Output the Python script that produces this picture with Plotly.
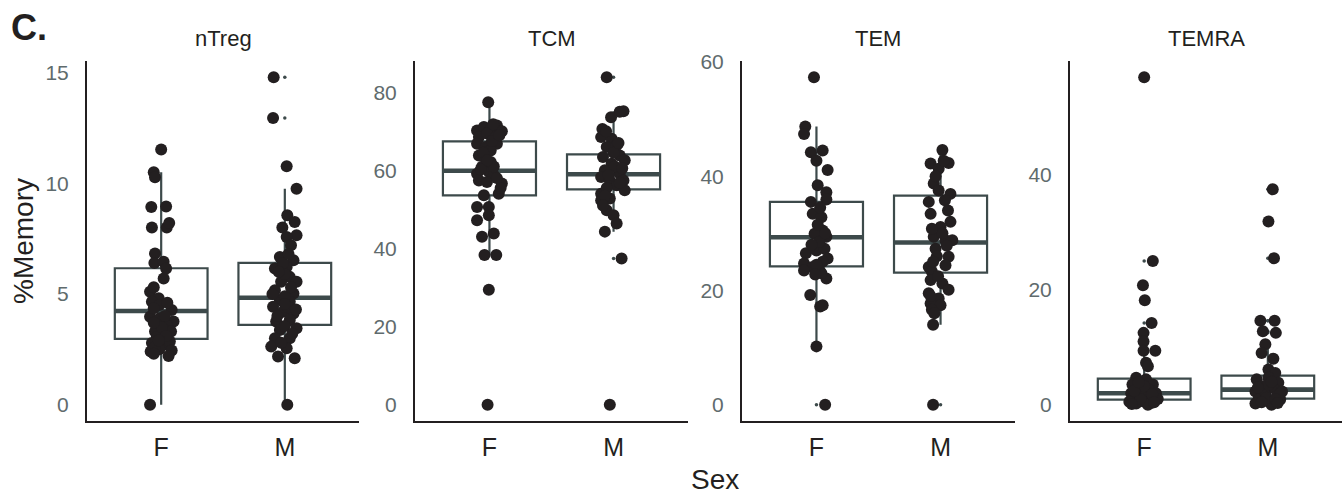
import plotly.graph_objects as go

# ---------------- data ----------------
panels = ["nTreg", "TCM", "TEM", "TEMRA"]
sexes = ["F", "M"]

ntreg_F = [11.52, 10.5, 10.27, 8.93, 8.95, 8.0, 8.0, 8.2, 6.83, 6.4, 6.45, 6.15, 5.7, 5.1, 4.8,
           4.65, 4.5, 4.27, 3.97, 3.9, 3.75, 3.6, 3.3, 3.3, 3.05, 2.78, 2.7, 2.85, 2.4, 2.5,
           2.45, 2.2, 0.0, 4.0, 3.5, 2.6, 5.3, 4.35, 3.1, 2.9, 4.6, 3.7, 2.3]
ntreg_F_jit = [0.0, -0.06, -0.05, -0.08, 0.04, -0.075, 0.045, 0.065, -0.05, -0.055, 0.02, 0.04,
               0.02, -0.09, -0.02, -0.075, -0.015, 0.085, -0.09, -0.01, 0.1, 0.045, -0.05, 0.08,
               -0.035, -0.075, 0.02, 0.07, -0.085, -0.015, 0.085, 0.06, -0.09, 0.03, 0.005, -0.05,
               -0.06, -0.06, 0.04, -0.02, 0.05, -0.06, -0.06]
ntreg_M = [14.78, 12.95, 10.77, 9.75, 8.55, 8.25, 8.0, 7.65, 7.57, 7.2, 6.67, 6.52, 6.15, 6.22,
           5.77, 5.55, 5.55, 5.17, 5.02, 4.72, 4.65, 4.42, 4.12, 4.2, 3.75, 3.82, 3.45, 3.37, 3.0,
           3.0, 2.62, 2.55, 2.17, 2.1, 0.0, 5.9, 4.9, 3.55, 6.4, 4.4, 6.0, 5.3, 4.55, 4.0, 3.2,
           2.8, 6.8, 5.0, 4.3]
ntreg_M_jit = [-0.09, -0.095, 0.015, 0.095, 0.02, 0.08, -0.02, 0.095, 0.015, 0.05, -0.04, 0.07,
               -0.08, 0.015, 0.04, 0.095, -0.03, -0.08, 0.07, -0.04, 0.04, -0.095, 0.07, -0.015,
               -0.07, 0.04, 0.095, -0.04, -0.08, 0.04, -0.11, 0.015, -0.055, 0.08, 0.02, 0.0, 0.0,
               0.0, -0.015, 0.025, -0.05, 0.05, 0.0, -0.06, 0.06, -0.03, 0.03, -0.1, 0.09]

tcm_F = [77.4, 70.2, 71.1, 70.6, 71.5, 70.0, 68.5, 69.4, 68.5, 66.8, 66.8, 66.0, 63.8, 65.1, 62.1,
         60.9, 59.6, 59.1, 58.7, 57.4, 57.0, 56.6, 54.0, 53.6, 50.6, 50.6, 48.5, 47.2, 43.0, 43.8,
         38.3, 38.3, 29.4, 0.0, 67.5, 61.0, 55.5, 69.0, 64.5, 62.5, 58.0, 60.2, 71.8]
tcm_F_jit = [-0.01, -0.1, -0.045, 0.01, 0.06, 0.1, -0.085, -0.02, 0.05, -0.1, 0.06, -0.03, -0.085,
             0.01, 0.01, -0.06, -0.005, -0.1, 0.035, -0.085, -0.02, 0.1, 0.075, -0.045, -0.1,
             -0.005, -0.005, -0.1, -0.06, 0.035, -0.04, 0.055, -0.005, -0.015, 0.02, 0.035, 0.09,
             0.08, -0.05, -0.02, 0.06, -0.07, 0.03]
tcm_M = [83.8, 75.1, 75.0, 73.6, 70.6, 68.5, 68.1, 66.0, 66.4, 63.4, 63.8, 62.6, 61.7, 60.0, 59.1,
         58.3, 57.4, 57.4, 56.2, 54.9, 54.0, 52.8, 52.3, 49.8, 48.5, 46.4, 44.3, 37.4, 0.0, 64.5,
         61.0, 55.5, 70.0, 67.0, 60.5, 58.8, 53.5, 56.8, 51.0]
tcm_M_jit = [-0.055, 0.08, 0.05, -0.02, -0.09, -0.1, -0.015, -0.055, 0.025, -0.085, 0.05, 0.09,
             -0.015, -0.07, 0.05, -0.1, -0.03, 0.08, 0.025, 0.09, -0.1, -0.03, -0.1, -0.055, 0.0,
             0.025, -0.07, 0.065, -0.03, 0.0, 0.01, -0.055, -0.06, 0.04, 0.07, -0.04, -0.07,
             0.05, -0.085]

tem_F = [57.3, 48.7, 47.4, 44.2, 44.5, 42.7, 41.1, 38.4, 37.2, 35.9, 35.5, 33.4, 32.8, 30.5, 29.9,
         29.4, 26.5, 27.0, 27.3, 25.6, 24.7, 24.1, 23.5, 23.5, 22.1, 23.0, 19.2, 17.2, 17.4, 10.2,
         0.0, 31.5, 28.5, 34.5, 30.0, 25.0, 24.5, 22.8, 28.0]
tem_F_jit = [-0.02, -0.09, -0.1, -0.045, 0.05, 0.0, 0.09, 0.01, 0.08, 0.08, -0.045, -0.03, 0.04,
             0.05, -0.015, 0.08, -0.085, 0.0, 0.065, 0.09, -0.1, -0.03, -0.1, 0.025, 0.08, 0.04,
             -0.05, 0.03, 0.05, 0.0, 0.07, 0.01, 0.025, 0.03, 0.07, 0.05, 0.0, -0.01, -0.04]
tem_M = [44.6, 42.2, 42.3, 41.3, 42.7, 38.7, 36.9, 35.8, 35.5, 33.4, 32.0, 31.1, 29.4, 28.8, 28.8,
         27.3, 25.9, 24.4, 24.1, 23.3, 21.8, 21.2, 20.1, 19.5, 18.6, 17.7, 17.4, 16.6, 14.0, 0.0,
         37.5, 30.0, 26.0, 40.0, 34.0, 30.8, 27.8, 25.0, 22.5, 19.0, 16.0]
tem_M_jit = [0.015, -0.08, 0.065, -0.015, 0.025, -0.055, 0.08, 0.035, -0.095, -0.08, 0.08, 0.0,
             -0.055, 0.04, 0.095, -0.04, 0.065, 0.04, -0.095, -0.07, -0.08, 0.015, 0.065, -0.095,
             -0.015, -0.08, 0.0, -0.07, -0.06, -0.06, -0.015, 0.015, -0.03, -0.04, 0.06, -0.07,
             0.05, -0.06, -0.02, -0.08, -0.05]

temra_F = [57.0, 25.0, 20.8, 18.2, 14.2, 12.5, 11.0, 9.4, 9.4, 7.3, 6.7, 4.7, 4.4, 3.5, 3.5, 2.9,
           2.6, 2.0, 2.0, 1.5, 1.5, 1.2, 0.9, 0.6, 0.3, 0.2, 0.0, 2.0, 3.2, 1.0, 0.5, 1.8, 1.0,
           2.4, 3.9, 0.4, 0.1]
temra_F_jit = [0.0, 0.07, -0.01, 0.005, 0.06, -0.005, -0.005, 0.09, -0.005, 0.015, 0.03, -0.065,
               0.015, -0.095, 0.07, -0.04, 0.04, -0.105, 0.095, -0.05, 0.015, 0.07, -0.095, -0.01,
               0.055, -0.065, 0.03, -0.025, 0.0, 0.11, -0.12, 0.065, -0.03, -0.08, -0.045, 0.08,
               -0.1]
temra_M = [37.5, 31.9, 25.5, 14.6, 14.6, 12.8, 12.5, 10.5, 9.0, 8.0, 6.1, 5.5, 4.4, 4.7, 3.8, 3.2,
           2.9, 2.3, 2.3, 1.7, 1.5, 0.9, 0.6, 0.9, 0.2, 0.0, 2.6, 3.5, 1.2, 1.9, 0.4, 1.0, 3.0,
           4.0, 0.3]
temra_M_jit = [0.04, 0.005, 0.05, -0.06, 0.055, -0.04, 0.065, -0.02, -0.05, 0.045, 0.005, 0.06,
               -0.09, 0.005, 0.085, -0.05, 0.045, -0.1, 0.115, -0.02, 0.075, -0.075, 0.02, 0.1,
               -0.1, 0.03, -0.035, 0.005, -0.01, 0.1, -0.05, 0.06, -0.08, 0.03, 0.08]

# box statistics: [F, M]
box_q1 = {"nTreg": [2.97, 3.6], "TCM": [53.6, 55.1], "TEM": [24.2, 23.1], "TEMRA": [0.87, 1.05]}
box_median = {"nTreg": [4.23, 4.83], "TCM": [59.9, 59.0], "TEM": [29.3, 28.4], "TEMRA": [1.98, 2.62]}
box_q3 = {"nTreg": [6.16, 6.4], "TCM": [67.4, 64.1], "TEM": [35.5, 36.6], "TEMRA": [4.54, 5.06]}
box_low = {"nTreg": [0.0, 0.0], "TCM": [38.3, 44.3], "TEM": [10.2, 14.0], "TEMRA": [0.0, 0.0]}
box_high = {"nTreg": [10.5, 9.75], "TCM": [77.4, 75.1], "TEM": [48.7, 44.6], "TEMRA": [9.4, 10.5]}

y_ticks = {"nTreg": [0, 5, 10, 15], "TCM": [0, 20, 40, 60, 80], "TEM": [0, 20, 40, 60],
           "TEMRA": [0, 20, 40]}

values = {
    "nTreg": [(ntreg_F, ntreg_F_jit), (ntreg_M, ntreg_M_jit)],
    "TCM": [(tcm_F, tcm_F_jit), (tcm_M, tcm_M_jit)],
    "TEM": [(tem_F, tem_F_jit), (tem_M, tem_M_jit)],
    "TEMRA": [(temra_F, temra_F_jit), (temra_M, temra_M_jit)],
}

# ---------------- styling ----------------
W, H = 1342, 498
x_px = [(87, 359), (415, 688), (742, 1015), (1070, 1342)]
y_dom = [(498 - 421) / H, (498 - 61) / H]
INK = "#231f20"
BOXC = "#3d4a4b"
TICKC = "#5f6b6d"
FONT = "Liberation Sans, Arial, Helvetica, sans-serif"
BOXW = 0.75

fig = go.Figure()
layout_axes = {}
annotations = []

for p, name in enumerate(panels):
    xa = "x" if p == 0 else f"x{p+1}"
    ya = "y" if p == 0 else f"y{p+1}"
    all_vals = values[name][0][0] + values[name][1][0]
    lo, hi = min(all_vals), max(all_vals)
    span = hi - lo
    yr = [lo - 0.05 * span, hi + 0.05 * span]

    for g, sex in enumerate(sexes):
        vals, jit = values[name][g]
        fig.add_trace(go.Box(
            x=[g], q1=[box_q1[name][g]], median=[box_median[name][g]], q3=[box_q3[name][g]],
            lowerfence=[box_low[name][g]], upperfence=[box_high[name][g]],
            width=BOXW, whiskerwidth=0, boxpoints=False,
            line=dict(color=BOXC, width=2.2), fillcolor="white",
            xaxis=xa, yaxis=ya, showlegend=False, hoverinfo="skip"))
        m = box_median[name][g]
        fig.add_trace(go.Scatter(
            x=[g - BOXW / 2, g + BOXW / 2], y=[m, m], mode="lines",
            line=dict(color=BOXC, width=4.6), xaxis=xa, yaxis=ya,
            showlegend=False, hoverinfo="skip"))
        outs = [v for v in vals if v < box_low[name][g] or v > box_high[name][g]]
        if outs:
            fig.add_trace(go.Scatter(
                x=[g] * len(outs), y=outs, mode="markers",
                marker=dict(color=BOXC, size=3.5), xaxis=xa, yaxis=ya,
                showlegend=False, hoverinfo="skip"))
    for g, sex in enumerate(sexes):
        vals, jit = values[name][g]
        fig.add_trace(go.Scatter(
            x=[g + j for j in jit], y=vals, mode="markers",
            marker=dict(color=INK, size=12, line=dict(width=0)),
            xaxis=xa, yaxis=ya, showlegend=False, name=sex))

    x0, x1 = x_px[p]
    xkey = "xaxis" if p == 0 else f"xaxis{p+1}"
    ykey = "yaxis" if p == 0 else f"yaxis{p+1}"
    layout_axes[xkey] = dict(
        domain=[x0 / W, x1 / W], anchor=ya, range=[-0.6, 1.6], automargin=False,
        tickmode="array", tickvals=[0, 1], ticktext=sexes,
        showgrid=False, zeroline=False, showline=True, linecolor=INK, linewidth=2,
        ticks="", ticklabelstandoff=3,
        tickfont=dict(family=FONT, size=25, color=INK), fixedrange=True)
    layout_axes[ykey] = dict(
        domain=y_dom, anchor=xa, range=yr, automargin=False,
        tickmode="array", tickvals=y_ticks[name],
        showgrid=False, zeroline=False, showline=True, linecolor=INK, linewidth=2,
        ticks="", ticklabelstandoff=12,
        tickfont=dict(family=FONT, size=21, color=TICKC), fixedrange=True)
    annotations.append(dict(
        text=name, x=(x0 + x1) / 2 / W, y=(498 - 39) / H, xref="paper", yref="paper",
        xanchor="center", yanchor="middle", showarrow=False,
        font=dict(family=FONT, size=22, color=INK)))

annotations += [
    dict(text="%Memory", x=23 / W, y=(498 - 241) / H, xref="paper", yref="paper",
         xanchor="center", yanchor="middle", textangle=-90, showarrow=False,
         font=dict(family=FONT, size=28, color=INK)),
    dict(text="Sex", x=715 / W, y=(498 - 479) / H, xref="paper", yref="paper",
         xanchor="center", yanchor="middle", showarrow=False,
         font=dict(family=FONT, size=28, color=INK)),
    dict(text="<b>C.</b>", x=9 / W, y=(498 - 27) / H, xref="paper", yref="paper",
         xanchor="left", yanchor="middle", showarrow=False,
         font=dict(family=FONT, size=36, color=INK)),
]

fig.update_layout(
    width=W, height=H, margin=dict(l=0, r=0, t=0, b=0, pad=0, autoexpand=False),
    paper_bgcolor="white", plot_bgcolor="white",
    showlegend=False, annotations=annotations, **layout_axes)

fig.write_html(
    "out.html", config={"displayModeBar": False},
    post_script="document.body.style.margin='0';document.body.style.padding='0';"
                "document.body.style.overflow='hidden';")
